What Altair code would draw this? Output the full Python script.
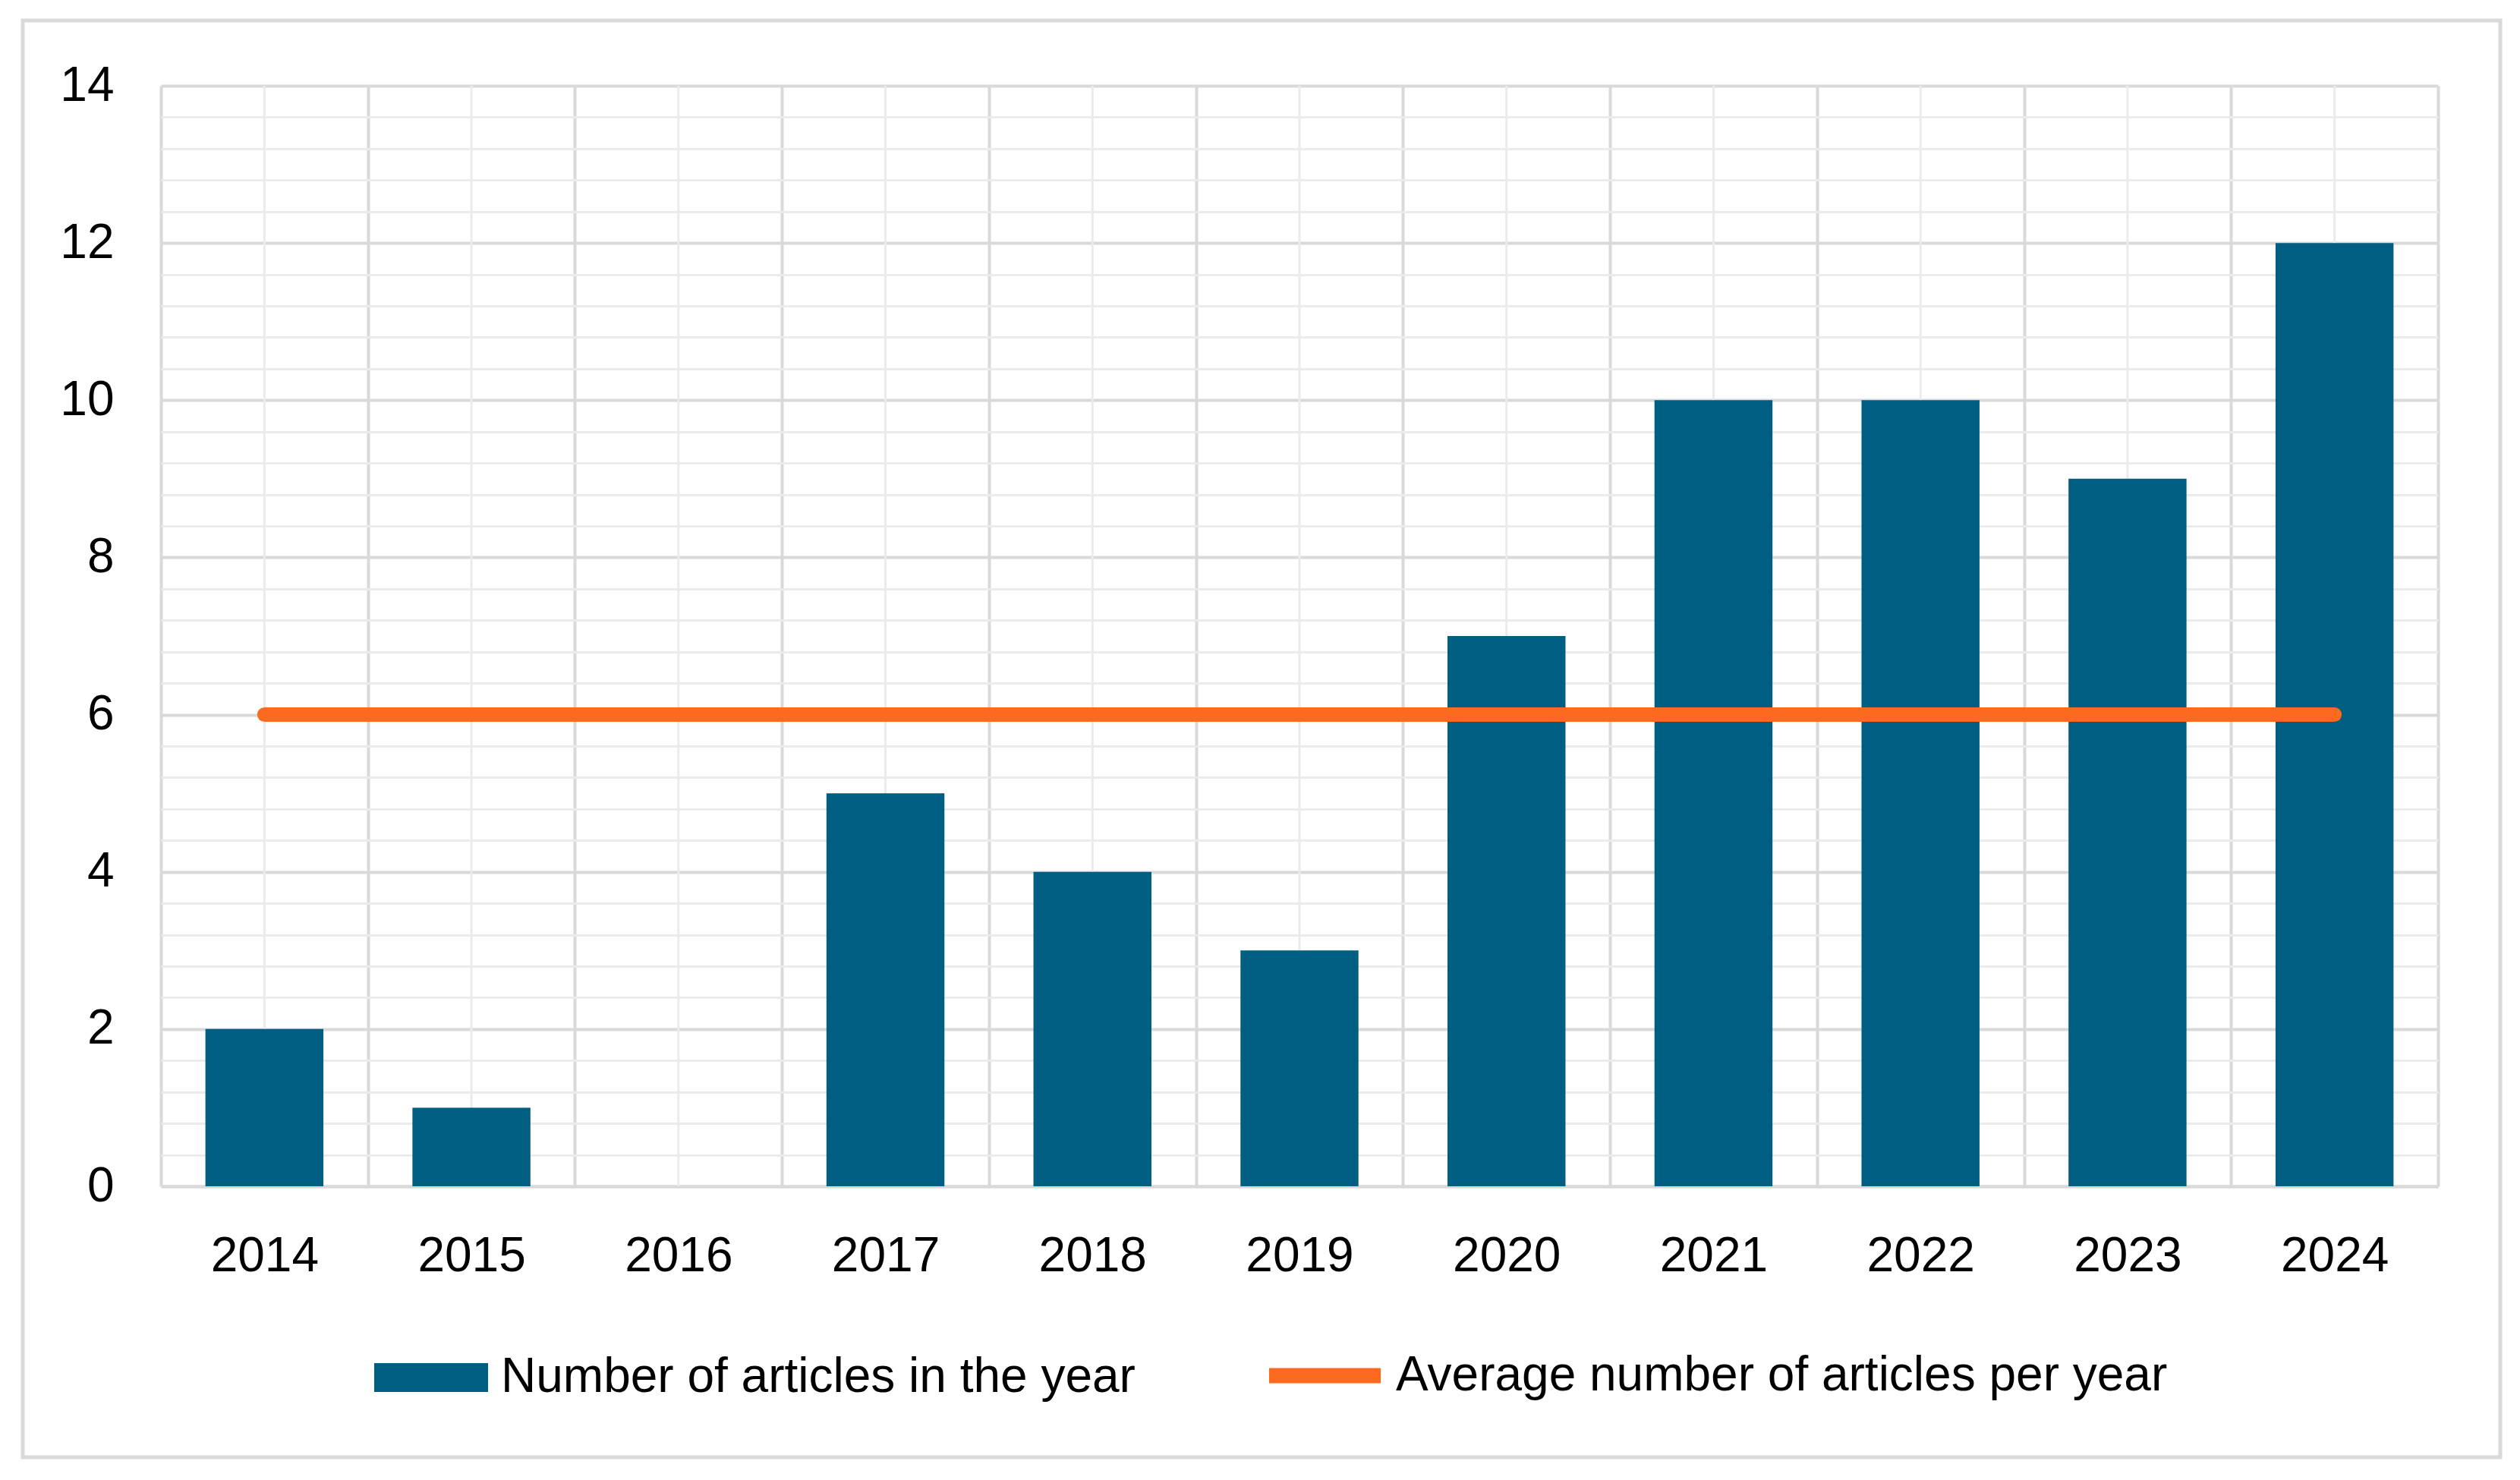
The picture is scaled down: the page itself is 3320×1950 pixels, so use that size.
import altair as alt
import pandas as pd

years = ["2014", "2015", "2016", "2017", "2018", "2019", "2020", "2021", "2022", "2023", "2024"]
articles = [2, 1, 0, 5, 4, 3, 7, 10, 10, 9, 12]
average = [6, 6, 6, 6, 6, 6, 6, 6, 6, 6, 6]
bar_name = "Number of articles in the year"
line_name = "Average number of articles per year"

df = pd.DataFrame({
    "year": years,
    "articles": articles,
    "average": average,
    "s1": [bar_name] * len(years),
    "s2": [line_name] * len(years),
})

FONT = "Liberation Sans"
BAR_COLOR = "#005E82"
LINE_COLOR = "#FB6A1E"
MAJOR = "#D9D9D9"
MINOR = "#EBEBEB"

grid_vals = [round(i * 0.4, 1) for i in range(36)]
is_major = "abs(datum.value / 2 - round(datum.value / 2)) < 0.000001"

x_enc = alt.X(
    "year:N",
    sort=years,
    scale=alt.Scale(paddingInner=0, paddingOuter=0),
    axis=alt.Axis(
        title=None,
        labelFont=FONT,
        labelFontSize=64,
        labelColor="#000000",
        labelPadding=60,
        ticks=False,
        tickSize=0,
        tickBand="extent",
        grid=True,
        gridColor=MAJOR,
        gridWidth=4,
        domain=True,
        domainColor=MAJOR,
        domainWidth=4,
        labelAngle=0,
    ),
)

y_axis = alt.Axis(
    title=None,
    values=grid_vals,
    labelExpr=f"({is_major}) ? format(datum.value, 'd') : ''",
    labelFont=FONT,
    labelFontSize=64,
    labelColor="#000000",
    labelPadding=62,
    ticks=False,
    tickSize=0,
    domain=False,
    grid=True,
    gridColor={"condition": {"test": is_major, "value": MAJOR}, "value": MINOR},
    gridWidth={"condition": {"test": is_major, "value": 4}, "value": 3},
)

base = alt.Chart(df)

minor_v = base.mark_rule(color=MINOR, strokeWidth=3).encode(x=x_enc)

bars = base.mark_bar(width={"band": 0.57}, color=BAR_COLOR).encode(
    x=x_enc,
    y=alt.Y("articles:Q", scale=alt.Scale(domain=[0, 14], nice=False), axis=y_axis),
    color=alt.Color(
        "s1:N",
        scale=alt.Scale(domain=[bar_name], range=[BAR_COLOR]),
        legend=alt.Legend(
            title=None,
            orient="none",
            legendX=281,
            legendY=1627,
            symbolType="M-1,-0.253H1V0.253H-1Z",
            symbolSize=22500,
            symbolStrokeWidth=0,
            symbolOpacity=1,
            labelFont=FONT,
            labelFontSize=64,
            labelColor="#000000",
            labelOffset=17,
            labelLimit=2000,
            padding=0,
        ),
    ),
)

line = base.mark_line(strokeWidth=19, strokeCap="round", color=LINE_COLOR).encode(
    x=x_enc,
    y=alt.Y("average:Q"),
    color=alt.Color(
        "s2:N",
        scale=alt.Scale(domain=[line_name], range=[LINE_COLOR]),
        legend=alt.Legend(
            title=None,
            orient="none",
            legendX=1450,
            legendY=1616,
            symbolType="stroke",
            symbolSize=21609,
            symbolStrokeWidth=20,
            symbolOpacity=1,
            labelFont=FONT,
            labelFontSize=64,
            labelColor="#000000",
            labelOffset=10,
            labelLimit=2000,
            padding=0,
        ),
    ),
)

frame = alt.Chart(alt.Data(values=[{"k": 1}])).mark_rect(
    fillOpacity=0, stroke=MAJOR, strokeWidth=5
).encode(
    x=alt.value(-182), x2=alt.value(3082), y=alt.value(-86), y2=alt.value(1807)
)

chart = (
    alt.layer(minor_v, bars, line, frame)
    .resolve_scale(color="independent")
    .properties(
        width=3000,
        height=1450,
        autosize=alt.AutoSizeParams(type="none"),
        padding={"left": 204, "top": 105, "right": 95, "bottom": 370},
        background="#FFFFFF",
    )
    .configure_view(strokeWidth=0)
)

chart.save("out.html", embed_options={"renderer": "svg", "actions": False})
